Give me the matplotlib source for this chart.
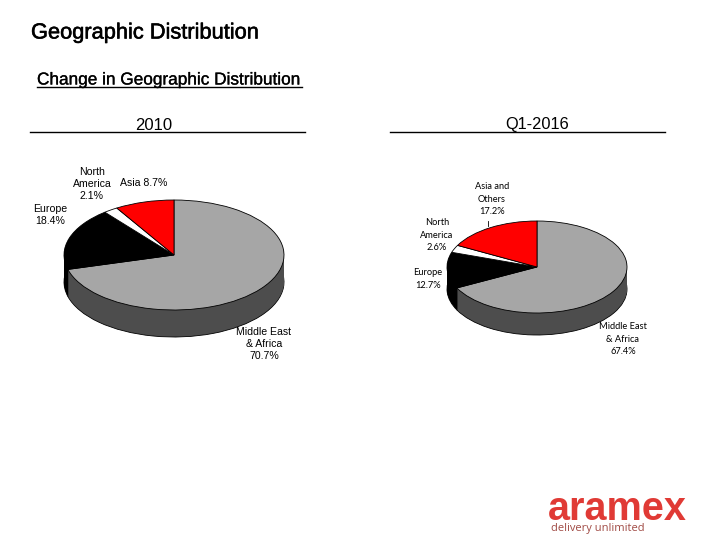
import matplotlib.pyplot as plt
from matplotlib.patheffects import withStroke

W, H = 720, 540

# pie data, clockwise from 12 o'clock
vals_2010 = [70.7, 18.4, 2.1, 8.7]
vals_2016 = [67.4, 12.7, 2.6, 17.2]
colors_top = ["#a6a6a6", "#000000", "#ffffff", "#ff0000"]
colors_side = ["#4d4d4d", "#000000", "#ffffff", "#ff0000"]

labels_2010 = ["Middle East\n& Africa\n70.7%", "Europe\n18.4%", "North\nAmerica\n2.1%", "Asia 8.7%"]
labels_2016 = ["Middle East\n& Africa\n67.4%", "Europe\n12.7%", "North\nAmerica\n2.6%", "Asia and\nOthers\n17.2%"]
label_pos_2010 = [(264, 344), (50, 215), (92, 184), (144, 183)]
label_pos_2016 = [(623, 339), (428, 279), (437, 235), (492, 199)]


def draw_pie(fig, vals, cx, cy, rx, ry, depth):
    # pie is squashed by giving it a flat axes
    ax = fig.add_axes([(cx - rx) / W, 1 - (cy + ry + depth) / H, 2 * rx / W, (2 * ry + depth) / H])
    for d in range(depth, 0, -1):
        edge = "black" if d == depth else "none"
        ax.pie(vals, colors=colors_side, startangle=90, counterclock=False, center=(0, -d / ry),
               normalize=True, wedgeprops={"edgecolor": edge, "linewidth": 0.6, "clip_on": False})
    ax.pie(vals, colors=colors_top, startangle=90, counterclock=False, normalize=True,
           wedgeprops={"edgecolor": "black", "linewidth": 0.6, "clip_on": False})
    ax.set_aspect("auto")
    ax.set_xlim(-1, 1)
    ax.set_ylim(-1 - depth / ry, 1)
    ax.axis("off")


fig = plt.figure(figsize=(7.2, 5.4), dpi=100)
bg = fig.add_axes([0, 0, 1, 1])
bg.set_xlim(0, W)
bg.set_ylim(H, 0)
bg.axis("off")

bold = [withStroke(linewidth=0.4, foreground="black")]
bg.text(31, 33, "Geographic Distribution", fontsize=15.7, family="Liberation Sans", va="center", path_effects=bold)
bg.text(37, 80, "Change in Geographic Distribution", fontsize=12.4, family="Liberation Sans", va="center",
        path_effects=[withStroke(linewidth=0.2, foreground="black")])
bg.plot([37, 302], [87, 87], color="black", lw=1)

bg.text(154, 125, "2010", fontsize=12, family="Liberation Sans", ha="center", va="center")
bg.text(537, 124, "Q1-2016", fontsize=11.8, family="Liberation Sans", ha="center", va="center")
bg.plot([30, 305], [132, 132], color="black", lw=1)
bg.plot([390, 665], [132, 132], color="black", lw=1)

draw_pie(fig, vals_2010, 174, 255, 110, 55, 27)
draw_pie(fig, vals_2016, 537, 267, 90, 46, 22)

top = fig.add_axes([0, 0, 1, 1])
top.set_xlim(0, W)
top.set_ylim(H, 0)
top.axis("off")
top.patch.set_alpha(0)

for lab, pos in zip(labels_2010, label_pos_2010):
    top.text(pos[0], pos[1], lab, fontsize=7.6, family="Liberation Sans", ha="center", va="center", linespacing=1.25)
for lab, pos in zip(labels_2016, label_pos_2016):
    top.text(pos[0], pos[1], lab, fontsize=6.7, family="Lato", ha="center", va="center", linespacing=1.5)
top.plot([488, 488], [221, 226], color="black", lw=0.6)

top.text(548, 520, "aramex", fontsize=28.5, family="Liberation Sans", weight="bold", color="#e03a35", va="baseline")
top.text(551, 531, "delivery unlimited", fontsize=8, family="Open Sans", color="#a04a44", va="baseline")

fig.savefig("out.png", dpi=100)
